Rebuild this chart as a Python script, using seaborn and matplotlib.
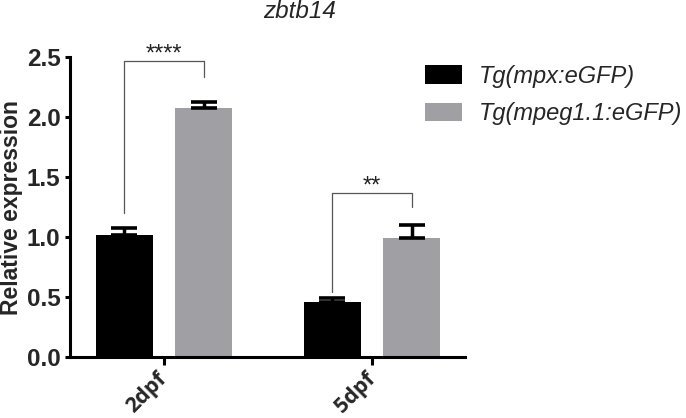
import numpy as np
import pandas as pd
import seaborn as sns
import matplotlib
matplotlib.use("Agg")
import matplotlib.pyplot as plt
from matplotlib.patches import Patch

# ---- data ----
stages = ["2dpf", "5dpf"]
groups = ["Tg(mpx:eGFP)", "Tg(mpeg1.1:eGFP)"]
mpx_mean = [1.02, 0.46]
mpx_err = [0.055, 0.03]
mpeg_mean = [2.075, 0.995]
mpeg_err = [0.05, 0.11]
sig_labels = ["****", "**"]
# bracket: (top, left-leg bottom, right-leg bottom) in data units
bracket_top = [2.47, 1.365]
bracket_left = [1.20, 0.545]
bracket_right = [2.335, 1.25]
yticks = [0.0, 0.5, 1.0, 1.5, 2.0, 2.5]

colors = ["#000000", "#a0a0a4"]

df = pd.DataFrame({
    "stage": stages * 2,
    "group": [groups[0]] * 2 + [groups[1]] * 2,
    "value": mpx_mean + mpeg_mean,
})

sns.set_style("white")
plt.rcParams["font.family"] = ["Liberation Sans", "DejaVu Sans"]

fig = plt.figure(figsize=(6.86, 4.18), dpi=100)
ax = fig.add_axes([69.5 / 686, 61 / 418, (465 - 69.5) / 686, (357 - 57.3) / 418])

sns.barplot(data=df, x="stage", y="value", hue="group", order=stages,
            hue_order=groups, palette=colors, width=0.76, gap=0.29,
            errorbar=None, legend=False, ax=ax, saturation=1,
            edgecolor="none", linewidth=0)

errs = [mpx_err, mpeg_err]
bar_conts = list(ax.containers)
centers = []
for ci, cont in enumerate(bar_conts):
    cs = []
    for bi, bar in enumerate(cont):
        x = bar.get_x() + bar.get_width() / 2
        h = bar.get_height()
        cs.append(x)
        ax.errorbar([x], [h], yerr=[[0], [errs[ci][bi]]], fmt="none",
                    ecolor="black", elinewidth=2.5, capsize=9.3,
                    capthick=2.6, zorder=3)
    centers.append(cs)

# significance brackets
for i in range(len(stages)):
    xl = centers[0][i]
    xr = centers[1][i]
    ax.plot([xl, xl, xr, xr],
            [bracket_left[i], bracket_top[i], bracket_top[i], bracket_right[i]],
            color="#555555", lw=0.9, clip_on=False, zorder=4)
    ax.text((xl + xr) / 2, bracket_top[i] + 0.005, sig_labels[i],
            ha="center", va="baseline", fontsize=17, clip_on=False,
            color="#222222")

ax.set_ylim(0, 2.5)
ax.set_xlim(-(164 - 69.5) / 208, 1.447)
ax.set_yticks(yticks)
ax.set_yticklabels([f"{t:.1f}" for t in yticks], fontsize=17.5, fontweight="bold")
ax.set_xticks([0, 1])
ax.set_xticklabels(stages, rotation=45, ha="right", va="center",
                   rotation_mode="anchor",
                   fontsize=15.5, fontweight="bold", family="Open Sans")
ax.set_xlabel("")
ax.set_ylabel("Relative expression", fontsize=16.5, fontweight="bold", labelpad=3)

for s in ["top", "right"]:
    ax.spines[s].set_visible(False)
for s in ["left", "bottom"]:
    ax.spines[s].set_linewidth(2.2)
    ax.spines[s].set_color("black")
ax.tick_params(axis="y", which="major", direction="out", length=3.5,
               width=2.2, color="black", left=True, pad=3)
ax.tick_params(axis="x", which="major", direction="out", length=5.5,
               width=2.2, color="black", bottom=True, pad=8)

fig.text(300 / 686, 1 - 12 / 418, "zbtb14", ha="center", va="center",
         fontsize=17.5, style="italic")

handles = [Patch(facecolor=c, edgecolor="none") for c in colors]
leg = fig.legend(handles, groups, loc="upper left",
                 bbox_to_anchor=(425 / 686, 1 - 65 / 418), frameon=False,
                 borderpad=0, borderaxespad=0,
                 prop={"size": 17, "style": "italic"}, handlelength=1.56,
                 handleheight=0.85, handletextpad=0.72, labelspacing=0.6)

fig.savefig("out.png", dpi=100)
